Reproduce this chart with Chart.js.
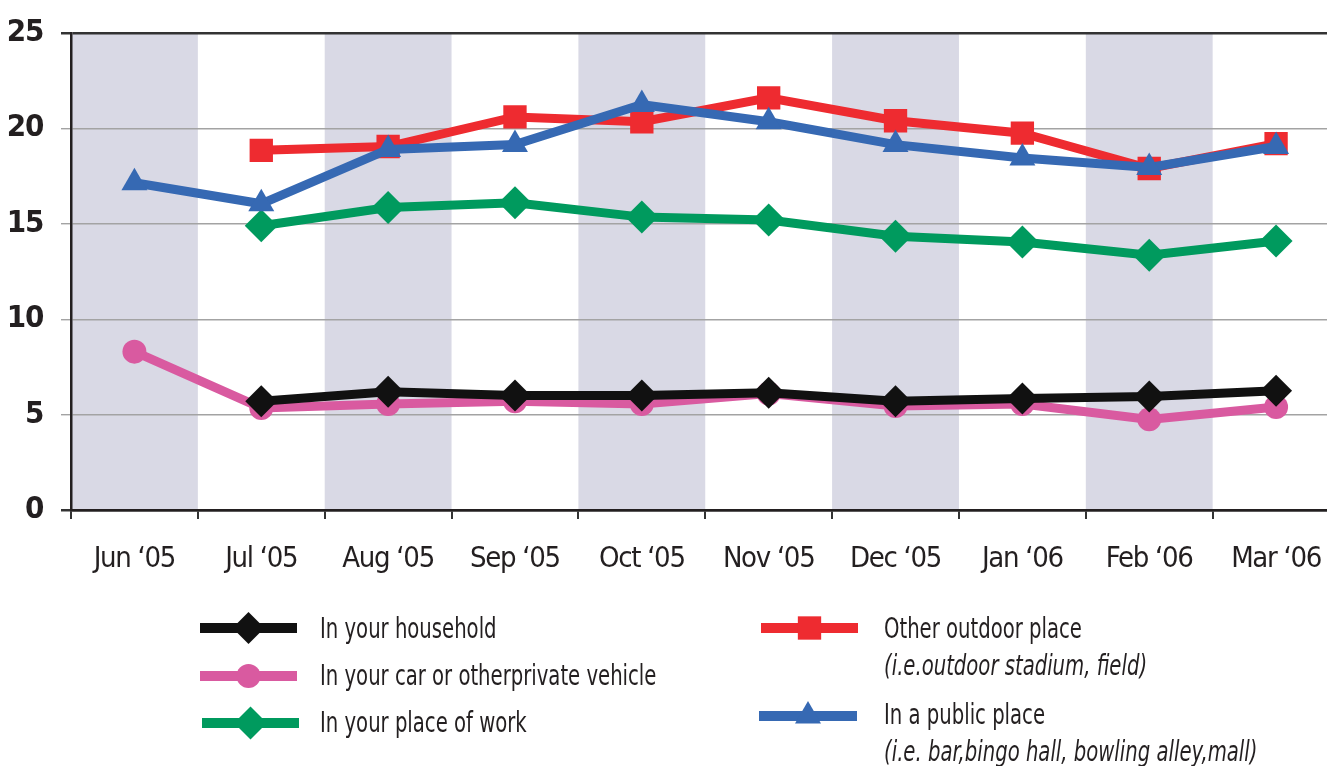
<!DOCTYPE html>
<html>
<head>
<meta charset="utf-8">
<script src="https://cdn.jsdelivr.net/npm/chart.js@4/dist/chart.umd.min.js"></script>
<style>
  html, body { margin: 0; padding: 0; background: #fff; overflow: hidden; }
  #wrap { position: relative; width: 1356px; height: 766px; }
  #chart { position: absolute; left: 0; top: 0; }
  #keys { position: absolute; left: 0; top: 590px; }
  .lbl { position: absolute; font-family: "Liberation Sans Narrow", "DejaVu Sans Condensed", sans-serif;
         font-size: 28px; color: #231f20; white-space: nowrap; line-height: 1;
         transform: scaleX(0.78); transform-origin: 0 50%; }
  .it { font-style: italic; }
</style>
</head>
<body>
<div id="wrap">
  <canvas id="chart" width="1356" height="600"></canvas>
  <canvas id="keys" width="1340" height="176"></canvas>
  <div class="lbl" style="left:320px; top:615px;">In your household</div>
  <div class="lbl" style="left:320px; top:662px;">In your car or otherprivate vehicle</div>
  <div class="lbl" style="left:320px; top:709px;">In your place of work</div>
  <div class="lbl" style="left:884px; top:615px;">Other outdoor place</div>
  <div class="lbl it" style="left:884px; top:652px;">(i.e.outdoor stadium, field)</div>
  <div class="lbl" style="left:884px; top:701px;">In a public place</div>
  <div class="lbl it" style="left:884px; top:738px;">(i.e. bar,bingo hall, bowling alley,mall)</div>
</div>
<script>
const FONT = '"Liberation Sans Narrow", "DejaVu Sans Condensed", sans-serif';

const months = ['Jun \u201805', 'Jul \u201805', 'Aug \u201805', 'Sep \u201805', 'Oct \u201805',
                'Nov \u201805', 'Dec \u201805', 'Jan \u201806', 'Feb \u201806', 'Mar \u201806'];
const yTicks = [0, 5, 10, 15, 20, 25];

const household = [null, 5.7, 6.2, 6.0, 6.0, 6.15, 5.7, 5.85, 5.95, 6.25];
const carVehicle = [8.3, 5.35, 5.55, 5.7, 5.55, 6.1, 5.45, 5.55, 4.75, 5.4];
const placeOfWork = [null, 14.9, 15.85, 16.1, 15.35, 15.2, 14.35, 14.05, 13.35, 14.1];
const outdoorPlace = [null, 18.85, 19.05, 20.6, 20.35, 21.6, 20.4, 19.75, 17.9, 19.2];
const publicPlace = [17.15, 16.05, 18.9, 19.15, 21.25, 20.35, 19.15, 18.45, 17.95, 19.05];

const BLACK = '#111111', PINK = '#d95aa0', GREEN = '#009a5e', RED = '#ee2b30', BLUE = '#3669b3';
const BAND = '#d9d9e5';

const series = [
  { label: 'In a public place', data: publicPlace, color: BLUE, style: 'triangle', r: 15, order: 0 },
  { label: 'Other outdoor place', data: outdoorPlace, color: RED, style: 'rect', r: 16.5, order: 1 },
  { label: 'In your household', data: household, color: BLACK, style: 'rectRot', r: 16, order: 2 },
  { label: 'In your car or otherprivate vehicle', data: carVehicle, color: PINK, style: 'circle', r: 12, order: 3 },
  { label: 'In your place of work', data: placeOfWork, color: GREEN, style: 'rectRot', r: 16.5, order: 4 }
];

// Shaded bands behind every other month; tighter tracking for the axis labels
const bands = {
  id: 'bands',
  beforeDraw(chart) {
    const { ctx, chartArea, scales: { x } } = chart;
    const w = x.getPixelForValue(1) - x.getPixelForValue(0);
    ctx.save();
    ctx.fillStyle = BAND;
    months.forEach((m, i) => {
      if (i % 2 === 0) {
        const cx = x.getPixelForValue(i);
        ctx.fillRect(cx - w / 2, chartArea.top, w, chartArea.bottom - chartArea.top);
      }
    });
    ctx.restore();
    ctx.letterSpacing = '-1.3px';
  },
  afterDraw(chart) { chart.ctx.letterSpacing = '0px'; }
};

new Chart(document.getElementById('chart'), {
  type: 'line',
  data: {
    labels: months,
    datasets: series.map(s => ({
      label: s.label,
      data: s.data,
      order: s.order,
      borderColor: s.color,
      backgroundColor: s.color,
      borderWidth: 9,
      pointStyle: s.style,
      pointRadius: s.r,
      pointBorderWidth: 0,
      pointBackgroundColor: s.color,
      tension: 0,
      fill: false
    }))
  },
  options: {
    responsive: false,
    devicePixelRatio: 1,
    animation: false,
    layout: { padding: { top: 33, right: 3, left: 0, bottom: 0 } },
    plugins: { legend: { display: false }, tooltip: { enabled: false } },
    scales: {
      x: {
        type: 'category',
        offset: true,
        grid: { offset: true, drawOnChartArea: false, tickLength: 9, color: '#333', lineWidth: 2 },
        border: { display: true, color: '#231f20', width: 2.5 },
        ticks: { font: { family: FONT, size: 29 }, color: '#231f20', padding: 23, maxRotation: 0 },
        afterFit(s) { s.height = 90; s.paddingLeft = 0; s.paddingRight = 0; }
      },
      y: {
        min: 0, max: 25,
        afterBuildTicks(s) { s.ticks = yTicks.map(v => ({ value: v })); },
        grid: {
          tickLength: 10,
          color: c => (c.tick && (c.tick.value === 25 || c.tick.value === 0)) ? '#333' : '#a3a3a3',
          lineWidth: c => (c.tick && (c.tick.value === 25 || c.tick.value === 0)) ? 2.5 : 1.4
        },
        border: { display: true, color: '#231f20', width: 2.5 },
        ticks: { font: { family: FONT, size: 31, weight: 'bold' }, color: '#231f20', padding: 18 },
        afterFit(s) { s.width = 71; s.paddingTop = 0; s.paddingBottom = 0; }
      }
    }
  },
  plugins: [bands]
});

// Legend samples: thick line with the series marker in the middle
const keys = document.getElementById('keys').getContext('2d');
const keyPos = [
  { s: 2, x1: 200, x2: 297, y: 38 },
  { s: 3, x1: 200, x2: 297, y: 86 },
  { s: 4, x1: 202, x2: 299, y: 133 },
  { s: 1, x1: 761, x2: 858, y: 38 },
  { s: 0, x1: 759, x2: 857, y: 126 }
];
keyPos.forEach(k => {
  const s = series[k.s];
  keys.strokeStyle = s.color;
  keys.lineWidth = 10;
  keys.beginPath();
  keys.moveTo(k.x1, k.y);
  keys.lineTo(k.x2, k.y);
  keys.stroke();
  keys.fillStyle = s.color;
  Chart.helpers.drawPoint(keys, { pointStyle: s.style, radius: s.r, borderWidth: 0, rotation: 0 },
    (k.x1 + k.x2) / 2, k.y);
});
</script>
</body>
</html>
